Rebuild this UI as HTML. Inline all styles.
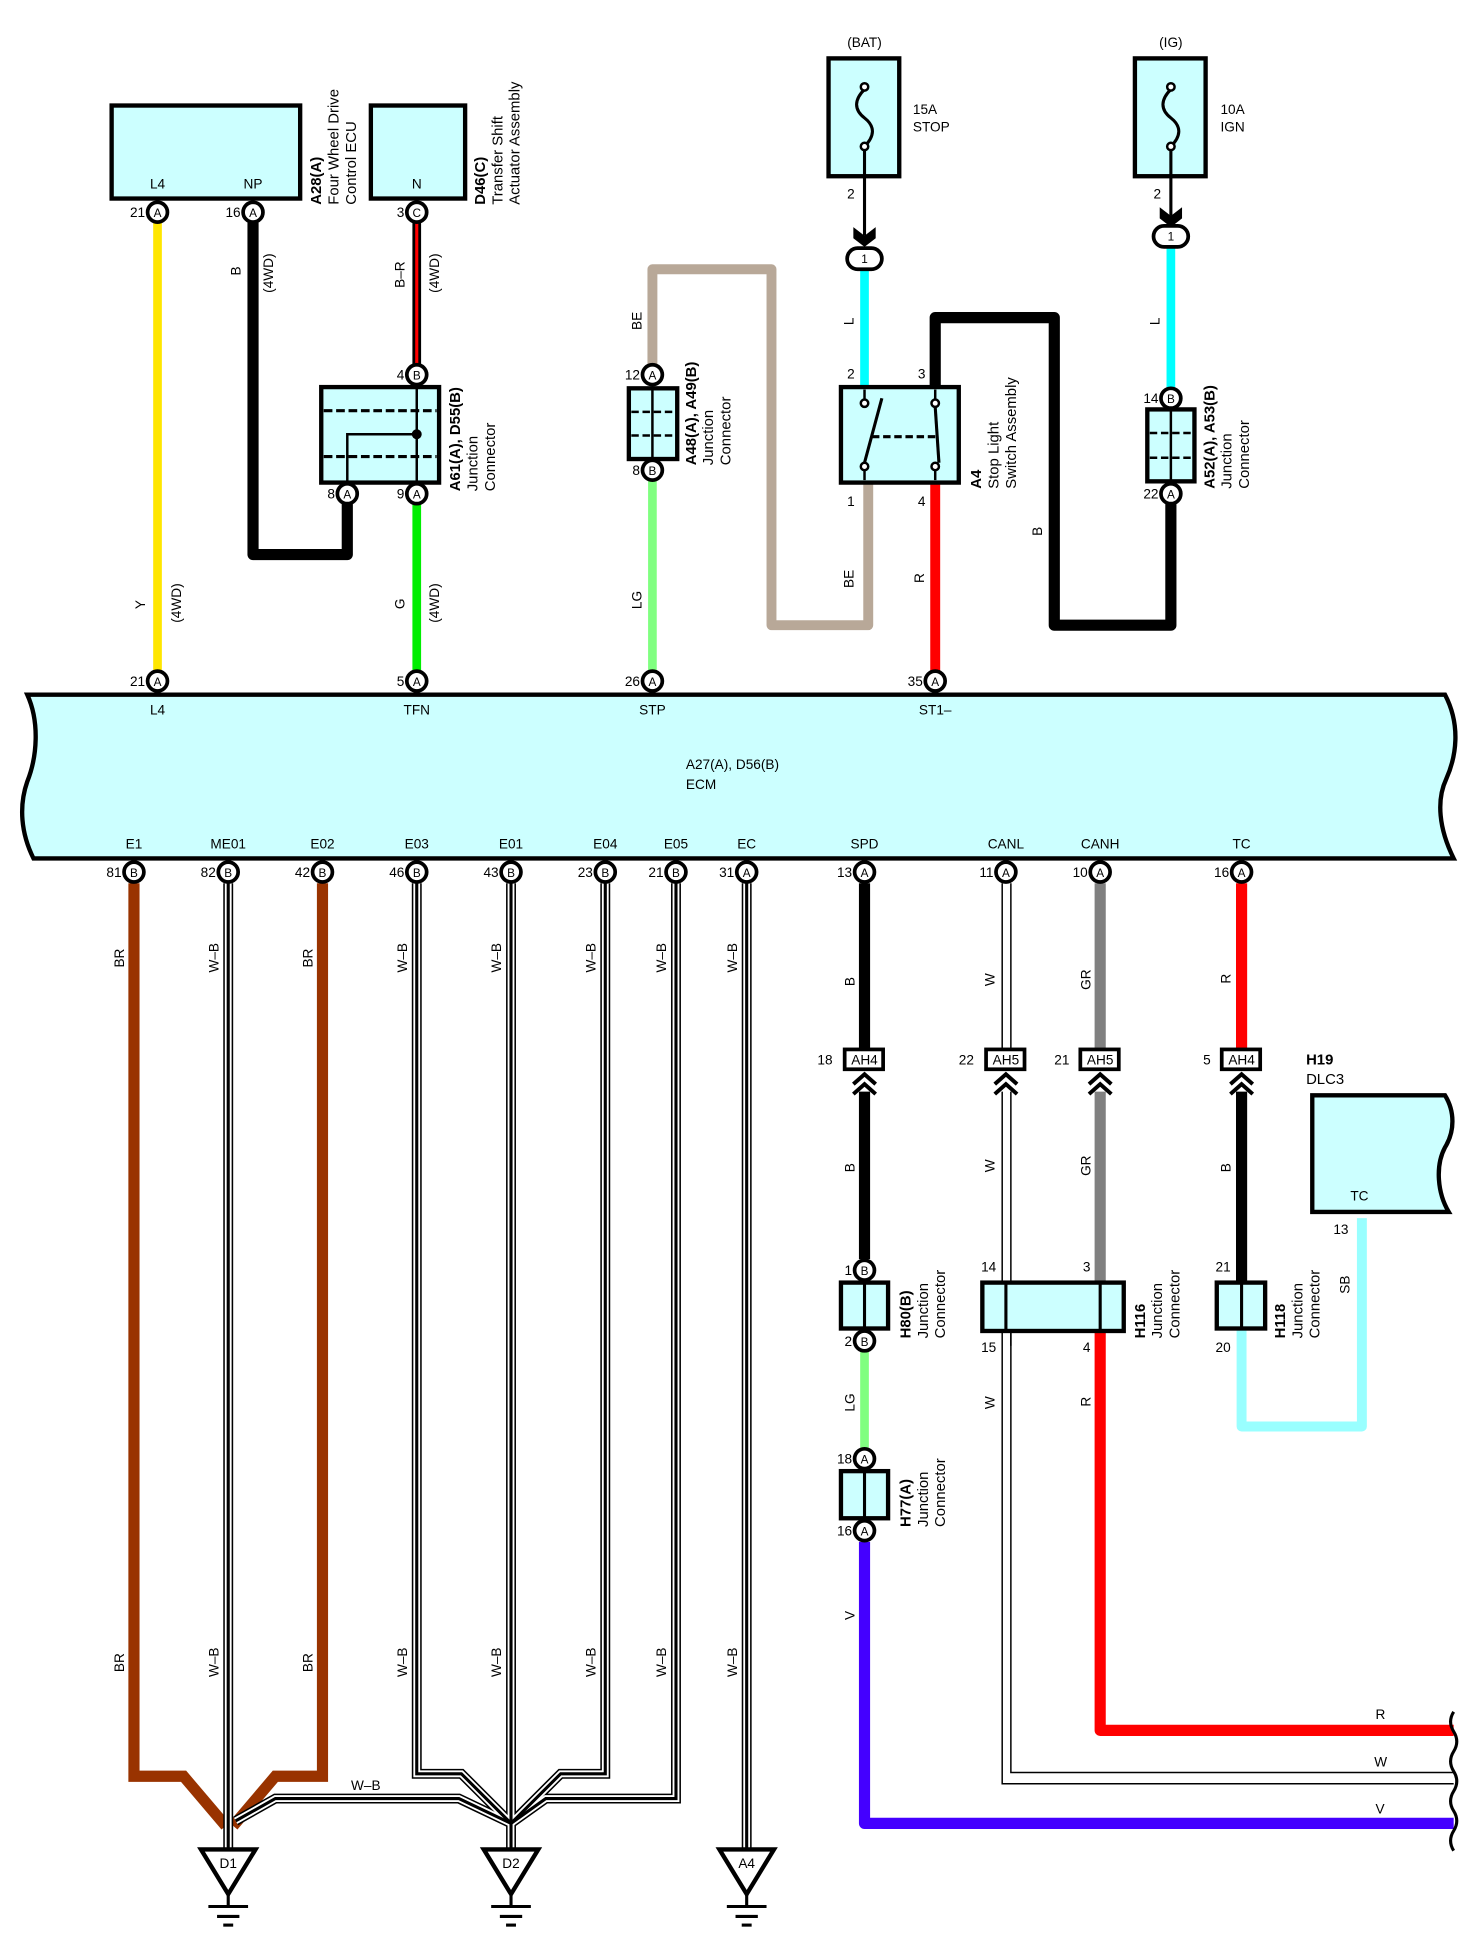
<!DOCTYPE html>
<html><head><meta charset="utf-8"><style>
html,body{margin:0;padding:0;background:#fff;}
svg{display:block;}
text{font-family:"Liberation Sans",Arial,sans-serif;fill:#000;}
.t{font-size:11px;}
.pl{font-size:9.5px;text-anchor:middle;}
.lb{font-size:12px;}
.b{font-weight:bold;}
</style></head><body>
<svg width="1476" height="1950" viewBox="0 0 1190 1572" xmlns="http://www.w3.org/2000/svg">
<defs>
<g id="wb"></g>
</defs>
<rect x="0" y="0" width="1190" height="1572" fill="#fff"/>

<!-- ================= TOP WIRES ================= -->
<g fill="none" stroke-linejoin="round" stroke-linecap="round">
<!-- yellow -->
<line x1="127" y1="180" x2="127" y2="541" stroke="#ffe600" stroke-width="7"/>
<!-- black NP -->
<polyline points="204,180 204,447 280,447 280,407" stroke="#000" stroke-width="9"/>
<!-- B-R -->
<line x1="336" y1="180" x2="336" y2="294" stroke="#000" stroke-width="7"/>
<line x1="336" y1="180" x2="336" y2="294" stroke="#ff0000" stroke-width="2.5"/>
<!-- green -->
<line x1="336" y1="407" x2="336" y2="541" stroke="#00ee00" stroke-width="7"/>
<!-- BE -->
<polyline points="526,293 526,217 622,217 622,504 700,504 700,389" stroke="#b8a898" stroke-width="8"/>
<!-- LG -->
<line x1="526" y1="388" x2="526" y2="541" stroke="#80ff80" stroke-width="7"/>
<!-- L cyan -->
<line x1="697" y1="217" x2="697" y2="312" stroke="#00ffff" stroke-width="7"/>
<line x1="944" y1="199" x2="944" y2="312" stroke="#00ffff" stroke-width="7"/>
<!-- black B -->
<polyline points="754,312 754,256 850,256 850,504 944,504 944,407" stroke="#000" stroke-width="9"/>
<!-- red -->
<line x1="754" y1="389" x2="754" y2="541" stroke="#ff0000" stroke-width="8"/>
</g>

<!-- A28 -->
<rect x="90" y="85" width="152" height="75" fill="#ccffff" stroke="#000" stroke-width="3.5"/>
<text class="t" x="127" y="152" text-anchor="middle">L4</text>
<text class="t" x="204" y="152" text-anchor="middle">NP</text>
<text class="lb" transform="translate(259,165) rotate(-90)"><tspan class="b">A28(A)</tspan></text>
<text class="lb" transform="translate(273,165) rotate(-90)">Four Wheel Drive</text>
<text class="lb" transform="translate(287,165) rotate(-90)">Control ECU</text>
<!-- D46 -->
<rect x="299" y="85" width="76" height="75" fill="#ccffff" stroke="#000" stroke-width="3.5"/>
<text class="t" x="336" y="152" text-anchor="middle">N</text>
<text class="lb b" transform="translate(391,165) rotate(-90)">D46(C)</text>
<text class="lb" transform="translate(405,165) rotate(-90)">Transfer Shift</text>
<text class="lb" transform="translate(419,165) rotate(-90)">Actuator Assembly</text>

<!-- wire labels top-left -->
<text class="t" transform="translate(194,222) rotate(-90)">B</text>
<text class="t" transform="translate(220,236) rotate(-90)">(4WD)</text>
<text class="t" transform="translate(326,232) rotate(-90)">B–R</text>
<text class="t" transform="translate(354,236) rotate(-90)">(4WD)</text>
<text class="t" transform="translate(117,491) rotate(-90)">Y</text>
<text class="t" transform="translate(146,502) rotate(-90)">(4WD)</text>
<text class="t" transform="translate(326,491) rotate(-90)">G</text>
<text class="t" transform="translate(354,502) rotate(-90)">(4WD)</text>

<!-- A61 junction -->
<rect x="259" y="312" width="95" height="77" fill="#ccffff" stroke="#000" stroke-width="3.5"/>
<line x1="261" y1="331" x2="352" y2="331" stroke="#000" stroke-width="2.5" stroke-dasharray="7,3"/>
<line x1="261" y1="368" x2="352" y2="368" stroke="#000" stroke-width="2.5" stroke-dasharray="7,3"/>
<line x1="336" y1="312" x2="336" y2="389" stroke="#000" stroke-width="2"/>
<polyline points="336,350 280,350 280,389" fill="none" stroke="#000" stroke-width="2"/>
<circle cx="336" cy="350" r="4" fill="#000"/>
<text class="lb b" transform="translate(371,396) rotate(-90)">A61(A), D55(B)</text>
<text class="lb" transform="translate(385,396) rotate(-90)">Junction</text>
<text class="lb" transform="translate(399,396) rotate(-90)">Connector</text>

<!-- A48 junction -->
<rect x="507" y="313" width="39" height="57" fill="#ccffff" stroke="#000" stroke-width="3.5"/>
<line x1="526" y1="313" x2="526" y2="370" stroke="#000" stroke-width="2"/>
<line x1="509" y1="332" x2="544" y2="332" stroke="#000" stroke-width="2" stroke-dasharray="6,3"/>
<line x1="509" y1="351" x2="544" y2="351" stroke="#000" stroke-width="2" stroke-dasharray="6,3"/>
<text class="lb b" transform="translate(561,375) rotate(-90)">A48(A), A49(B)</text>
<text class="lb" transform="translate(575,375) rotate(-90)">Junction</text>
<text class="lb" transform="translate(589,375) rotate(-90)">Connector</text>
<text class="t" transform="translate(517,266) rotate(-90)">BE</text>
<text class="t" transform="translate(517,491) rotate(-90)">LG</text>

<!-- Fuse 15A -->
<text class="t" x="697" y="38" text-anchor="middle">(BAT)</text>
<rect x="668" y="47" width="57" height="95" fill="#ccffff" stroke="#000" stroke-width="3.5"/>
<path d="M697,72 C689,80 688,88 697,95 C706,102 705,110 697,118" fill="none" stroke="#000" stroke-width="2.5"/>
<line x1="697" y1="118" x2="697" y2="190" stroke="#000" stroke-width="2.5"/>
<circle cx="697" cy="70" r="3" fill="#fff" stroke="#000" stroke-width="2"/>
<circle cx="697" cy="118" r="3" fill="#fff" stroke="#000" stroke-width="2"/>
<path d="M688,183 L697,190 L706,183 L706,192 L697,199 L688,192 Z" fill="#000"/>
<text class="t" x="736" y="92">15A</text>
<text class="t" x="736" y="106">STOP</text>
<text class="t" x="683" y="160">2</text>
<rect x="683" y="200" width="28" height="17" rx="8.5" fill="#fff" stroke="#000" stroke-width="3"/>
<text class="pl" x="697" y="212">1</text>
<text class="t" transform="translate(688,262) rotate(-90)">L</text>

<!-- Stop light switch -->
<rect x="678" y="312" width="95" height="77" fill="#ccffff" stroke="#000" stroke-width="3.5"/>
<line x1="697" y1="314" x2="697" y2="322" stroke="#000" stroke-width="2"/>
<line x1="697" y1="379" x2="697" y2="387" stroke="#000" stroke-width="2"/>
<line x1="754" y1="314" x2="754" y2="322" stroke="#000" stroke-width="2"/>
<line x1="754" y1="379" x2="754" y2="387" stroke="#000" stroke-width="2"/>
<line x1="697" y1="373" x2="711" y2="321" stroke="#000" stroke-width="2.5"/>
<line x1="754" y1="328" x2="757" y2="373" stroke="#000" stroke-width="2.5"/>
<line x1="703" y1="352" x2="755" y2="352" stroke="#000" stroke-width="2.5" stroke-dasharray="6,3"/>
<circle cx="697" cy="325" r="3" fill="#fff" stroke="#000" stroke-width="2"/>
<circle cx="697" cy="376" r="3" fill="#fff" stroke="#000" stroke-width="2"/>
<circle cx="754" cy="325" r="3" fill="#fff" stroke="#000" stroke-width="2"/>
<circle cx="754" cy="376" r="3" fill="#fff" stroke="#000" stroke-width="2"/>
<text class="t" x="683" y="305">2</text>
<text class="t" x="740" y="305">3</text>
<text class="t" x="683" y="408">1</text>
<text class="t" x="740" y="408">4</text>
<text class="lb b" transform="translate(791,394) rotate(-90)">A4</text>
<text class="lb" transform="translate(805,394) rotate(-90)">Stop Light</text>
<text class="lb" transform="translate(819,394) rotate(-90)">Switch Assembly</text>
<text class="t" transform="translate(688,474) rotate(-90)">BE</text>
<text class="t" transform="translate(745,470) rotate(-90)">R</text>
<text class="t" transform="translate(840,432) rotate(-90)">B</text>

<!-- Fuse 10A -->
<text class="t" x="944" y="38" text-anchor="middle">(IG)</text>
<rect x="915" y="47" width="57" height="95" fill="#ccffff" stroke="#000" stroke-width="3.5"/>
<path d="M944,72 C936,80 935,88 944,95 C953,102 952,110 944,118" fill="none" stroke="#000" stroke-width="2.5"/>
<line x1="944" y1="118" x2="944" y2="174" stroke="#000" stroke-width="2.5"/>
<circle cx="944" cy="70" r="3" fill="#fff" stroke="#000" stroke-width="2"/>
<circle cx="944" cy="118" r="3" fill="#fff" stroke="#000" stroke-width="2"/>
<path d="M935,167 L944,174 L953,167 L953,176 L944,183 L935,176 Z" fill="#000"/>
<text class="t" x="984" y="92">10A</text>
<text class="t" x="984" y="106">IGN</text>
<text class="t" x="930" y="160">2</text>
<rect x="930" y="182" width="28" height="17" rx="8.5" fill="#fff" stroke="#000" stroke-width="3"/>
<text class="pl" x="944" y="194">1</text>
<text class="t" transform="translate(935,262) rotate(-90)">L</text>

<!-- A52 -->
<rect x="925" y="330" width="38" height="58" fill="#ccffff" stroke="#000" stroke-width="3.5"/>
<line x1="944" y1="330" x2="944" y2="388" stroke="#000" stroke-width="2"/>
<line x1="927" y1="349" x2="961" y2="349" stroke="#000" stroke-width="2" stroke-dasharray="6,3"/>
<line x1="927" y1="369" x2="961" y2="369" stroke="#000" stroke-width="2" stroke-dasharray="6,3"/>
<text class="lb b" transform="translate(979,394) rotate(-90)">A52(A), A53(B)</text>
<text class="lb" transform="translate(993,394) rotate(-90)">Junction</text>
<text class="lb" transform="translate(1007,394) rotate(-90)">Connector</text>

<!-- ================= ECM ================= -->
<path d="M22,560 L1165,560 C1178,585 1174,610 1166,628 C1158,645 1160,668 1172,692 L27,692 C17,672 15,650 22,630 C30,610 32,582 22,560 Z" fill="#ccffff" stroke="#000" stroke-width="3.5"/>
<text class="t" x="127" y="576" text-anchor="middle">L4</text>
<text class="t" x="336" y="576" text-anchor="middle">TFN</text>
<text class="t" x="526" y="576" text-anchor="middle">STP</text>
<text class="t" x="754" y="576" text-anchor="middle">ST1–</text>
<text class="t" x="553" y="620">A27(A), D56(B)</text>
<text class="t" x="553" y="636">ECM</text>
<g class="t" text-anchor="middle">
<text x="108" y="684">E1</text><text x="184" y="684">ME01</text><text x="260" y="684">E02</text>
<text x="336" y="684">E03</text><text x="412" y="684">E01</text><text x="488" y="684">E04</text>
<text x="545" y="684">E05</text><text x="602" y="684">EC</text><text x="697" y="684">SPD</text>
<text x="811" y="684">CANL</text><text x="887" y="684">CANH</text><text x="1001" y="684">TC</text>
</g>

<!-- ================= BOTTOM WIRES ================= -->
<g fill="none" stroke-linejoin="miter">
<!-- brown -->
<polyline points="108,712 108,1432 148,1432 182,1472" stroke="#993300" stroke-width="9"/>
<polyline points="260,712 260,1432 222,1432 188,1472" stroke="#993300" stroke-width="9"/>
<!-- W-B wires: outer black, white, center black -->
<g stroke="#000" stroke-width="8">
<polyline points="184,712 184,1490"/>
<polyline points="336,712 336,1430 372,1430 412,1470"/>
<polyline points="412,712 412,1490"/>
<polyline points="488,712 488,1430 452,1430 412,1470"/>
<polyline points="545,712 545,1450 440,1450 412,1470"/>
<polyline points="190,1468 222,1450 370,1450 412,1470"/>
<polyline points="602,712 602,1490"/>
</g>
<g stroke="#fff" stroke-width="5.5">
<polyline points="184,712 184,1490"/>
<polyline points="336,712 336,1430 372,1430 412,1470"/>
<polyline points="412,712 412,1490"/>
<polyline points="488,712 488,1430 452,1430 412,1470"/>
<polyline points="545,712 545,1450 440,1450 412,1470"/>
<polyline points="190,1468 222,1450 370,1450 412,1470"/>
<polyline points="602,712 602,1490"/>
</g>
<g stroke="#000" stroke-width="2.5">
<polyline points="184,712 184,1490"/>
<polyline points="336,712 336,1430 372,1430 412,1470"/>
<polyline points="412,712 412,1490"/>
<polyline points="488,712 488,1430 452,1430 412,1470"/>
<polyline points="545,712 545,1450 440,1450 412,1470"/>
<polyline points="190,1468 222,1450 370,1450 412,1470"/>
<polyline points="602,712 602,1490"/>
</g>
<!-- right side -->
<line x1="697" y1="712" x2="697" y2="846" stroke="#000" stroke-width="9"/>
<line x1="697" y1="880" x2="697" y2="1015" stroke="#000" stroke-width="9"/>
<line x1="697" y1="1090" x2="697" y2="1167" stroke="#80ff80" stroke-width="7"/>
<polyline points="697,1243 697,1470 1172,1470" stroke="#4400ff" stroke-width="9" stroke-linejoin="round"/>
<!-- W (CANL) double thin -->
<polyline points="808,712 808,846" stroke="#000" stroke-width="1.2"/>
<polyline points="815,712 815,846" stroke="#000" stroke-width="1.2"/>
<polyline points="808,880 808,1438 1172,1438" stroke="#000" stroke-width="1.2"/>
<polyline points="815,880 815,1429 1172,1429" stroke="#000" stroke-width="1.2"/>
<!-- GR -->
<line x1="887" y1="712" x2="887" y2="846" stroke="#808080" stroke-width="9"/>
<line x1="887" y1="880" x2="887" y2="1034" stroke="#808080" stroke-width="9"/>
<polyline points="887,1073 887,1395 1172,1395" stroke="#ff0000" stroke-width="9" stroke-linejoin="round"/>
<!-- TC -->
<line x1="1001" y1="712" x2="1001" y2="846" stroke="#ff0000" stroke-width="9"/>
<line x1="1001" y1="880" x2="1001" y2="1034" stroke="#000" stroke-width="9"/>
<polyline points="1001,1071 1001,1150 1098,1150 1098,982" stroke="#99ffff" stroke-width="8" stroke-linejoin="round"/>
</g>

<!-- bottom wire labels -->
<g class="t">
<text transform="translate(100,780) rotate(-90)">BR</text>
<text transform="translate(176,784) rotate(-90)">W–B</text>
<text transform="translate(252,780) rotate(-90)">BR</text>
<text transform="translate(328,784) rotate(-90)">W–B</text>
<text transform="translate(404,784) rotate(-90)">W–B</text>
<text transform="translate(480,784) rotate(-90)">W–B</text>
<text transform="translate(537,784) rotate(-90)">W–B</text>
<text transform="translate(594,784) rotate(-90)">W–B</text>
<text transform="translate(100,1348) rotate(-90)">BR</text>
<text transform="translate(176,1352) rotate(-90)">W–B</text>
<text transform="translate(252,1348) rotate(-90)">BR</text>
<text transform="translate(328,1352) rotate(-90)">W–B</text>
<text transform="translate(404,1352) rotate(-90)">W–B</text>
<text transform="translate(480,1352) rotate(-90)">W–B</text>
<text transform="translate(537,1352) rotate(-90)">W–B</text>
<text transform="translate(594,1352) rotate(-90)">W–B</text>
<text x="283" y="1443">W–B</text>
<text transform="translate(689,795) rotate(-90)">B</text>
<text transform="translate(689,945) rotate(-90)">B</text>
<text transform="translate(689,1138) rotate(-90)">LG</text>
<text transform="translate(689,1306) rotate(-90)">V</text>
<text transform="translate(802,795) rotate(-90)">W</text>
<text transform="translate(802,945) rotate(-90)">W</text>
<text transform="translate(802,1136) rotate(-90)">W</text>
<text transform="translate(879,798) rotate(-90)">GR</text>
<text transform="translate(879,948) rotate(-90)">GR</text>
<text transform="translate(879,1134) rotate(-90)">R</text>
<text transform="translate(992,793) rotate(-90)">R</text>
<text transform="translate(992,945) rotate(-90)">B</text>
<text transform="translate(1088,1043) rotate(-90)">SB</text>
<text x="1109" y="1386">R</text>
<text x="1108" y="1424">W</text>
<text x="1109" y="1462">V</text>
</g>

<!-- AH connectors -->
<g>
<rect x="681" y="846" width="31" height="16" fill="#fff" stroke="#000" stroke-width="3"/>
<text class="t" x="697" y="858" text-anchor="middle">AH4</text><text class="t" x="659" y="858">18</text>
<rect x="795" y="846" width="31" height="16" fill="#fff" stroke="#000" stroke-width="3"/>
<text class="t" x="811" y="858" text-anchor="middle">AH5</text><text class="t" x="773" y="858">22</text>
<rect x="871" y="846" width="31" height="16" fill="#fff" stroke="#000" stroke-width="3"/>
<text class="t" x="887" y="858" text-anchor="middle">AH5</text><text class="t" x="850" y="858">21</text>
<rect x="985" y="846" width="31" height="16" fill="#fff" stroke="#000" stroke-width="3"/>
<text class="t" x="1001" y="858" text-anchor="middle">AH4</text><text class="t" x="970" y="858">5</text>
</g>
<g fill="none" stroke="#000" stroke-width="3.2">
<polyline points="688,874 697,866 706,874"/><polyline points="688,882 697,874 706,882"/>
<polyline points="802,874 811,866 820,874"/><polyline points="802,882 811,874 820,882"/>
<polyline points="878,874 887,866 896,874"/><polyline points="878,882 887,874 896,882"/>
<polyline points="992,874 1001,866 1010,874"/><polyline points="992,882 1001,874 1010,882"/>
</g>

<!-- H80 -->
<rect x="678" y="1034" width="38" height="37" fill="#ccffff" stroke="#000" stroke-width="3.5"/>
<line x1="697" y1="1034" x2="697" y2="1071" stroke="#000" stroke-width="2.5"/>
<text class="lb b" transform="translate(734,1079) rotate(-90)">H80(B)</text>
<text class="lb" transform="translate(748,1079) rotate(-90)">Junction</text>
<text class="lb" transform="translate(762,1079) rotate(-90)">Connector</text>
<!-- H77 -->
<rect x="678" y="1186" width="38" height="38" fill="#ccffff" stroke="#000" stroke-width="3.5"/>
<line x1="697" y1="1186" x2="697" y2="1224" stroke="#000" stroke-width="2.5"/>
<text class="lb b" transform="translate(734,1231) rotate(-90)">H77(A)</text>
<text class="lb" transform="translate(748,1231) rotate(-90)">Junction</text>
<text class="lb" transform="translate(762,1231) rotate(-90)">Connector</text>
<!-- H116 -->
<rect x="792" y="1034" width="114" height="39" fill="#ccffff" stroke="#000" stroke-width="3.5"/>
<line x1="811" y1="1034" x2="811" y2="1073" stroke="#000" stroke-width="2.5"/>
<line x1="887" y1="1034" x2="887" y2="1073" stroke="#000" stroke-width="2.5"/>
<line x1="815" y1="1073" x2="815" y2="1085" stroke="#000" stroke-width="1.2"/>
<text class="t" x="791" y="1025">14</text><text class="t" x="873" y="1025">3</text>
<text class="t" x="791" y="1090">15</text><text class="t" x="873" y="1090">4</text>
<text class="lb b" transform="translate(923,1079) rotate(-90)">H116</text>
<text class="lb" transform="translate(937,1079) rotate(-90)">Junction</text>
<text class="lb" transform="translate(951,1079) rotate(-90)">Connector</text>
<!-- H118 -->
<rect x="981" y="1034" width="39" height="37" fill="#ccffff" stroke="#000" stroke-width="3.5"/>
<line x1="1001" y1="1034" x2="1001" y2="1071" stroke="#000" stroke-width="2.5"/>
<text class="t" x="980" y="1025">21</text><text class="t" x="980" y="1090">20</text>
<text class="lb b" transform="translate(1036,1079) rotate(-90)">H118</text>
<text class="lb" transform="translate(1050,1079) rotate(-90)">Junction</text>
<text class="lb" transform="translate(1064,1079) rotate(-90)">Connector</text>
<!-- H19 DLC3 -->
<text class="lb b" x="1053" y="858">H19</text>
<text class="lb" x="1053" y="874">DLC3</text>
<path d="M1058,883 L1165,883 C1173,896 1173,912 1165,925 C1157,940 1159,962 1168,977 L1058,977 Z" fill="#ccffff" stroke="#000" stroke-width="3.5"/>
<text class="t" x="1096" y="968" text-anchor="middle">TC</text>
<text class="t" x="1075" y="995">13</text>

<!-- wavy break -->
<path d="M1172,1380 q-5,8 0,16 q5,8 0,16 q-5,8 0,16 q5,8 0,16 q-5,8 0,16 q5,8 0,16 q-5,8 0,16" fill="none" stroke="#000" stroke-width="2.5"/>

<!-- grounds -->
<g fill="#fff" stroke="#000" stroke-width="3.5" stroke-linejoin="miter">
<polygon points="162,1491 206,1491 184,1527"/>
<polygon points="390,1491 434,1491 412,1527"/>
<polygon points="580,1491 624,1491 602,1527"/>
</g>
<g stroke="#000" stroke-width="2.5">
<line x1="184" y1="1527" x2="184" y2="1537"/><line x1="168" y1="1537" x2="200" y2="1537"/><line x1="175" y1="1545" x2="193" y2="1545"/><line x1="180" y1="1552" x2="188" y2="1552"/>
<line x1="412" y1="1527" x2="412" y2="1537"/><line x1="396" y1="1537" x2="428" y2="1537"/><line x1="403" y1="1545" x2="421" y2="1545"/><line x1="408" y1="1552" x2="416" y2="1552"/>
<line x1="602" y1="1527" x2="602" y2="1537"/><line x1="586" y1="1537" x2="618" y2="1537"/><line x1="593" y1="1545" x2="611" y2="1545"/><line x1="598" y1="1552" x2="606" y2="1552"/>
</g>
<g class="t" text-anchor="middle">
<text x="184" y="1506">D1</text><text x="412" y="1506">D2</text><text x="602" y="1506">A4</text>
</g>

<!-- ================= PINS ================= -->
<g fill="#fff" stroke="#000" stroke-width="3">
<circle cx="127" cy="171" r="8"/><circle cx="204" cy="171" r="8"/><circle cx="336" cy="171" r="8"/>
<circle cx="336" cy="302" r="8"/><circle cx="280" cy="398" r="8"/><circle cx="336" cy="398" r="8"/>
<circle cx="526" cy="302" r="8"/><circle cx="526" cy="379" r="8"/>
<circle cx="944" cy="321" r="8"/><circle cx="944" cy="398" r="8"/>
<circle cx="127" cy="549" r="8"/><circle cx="336" cy="549" r="8"/><circle cx="526" cy="549" r="8"/><circle cx="754" cy="549" r="8"/>
<circle cx="108" cy="703" r="8"/><circle cx="184" cy="703" r="8"/><circle cx="260" cy="703" r="8"/><circle cx="336" cy="703" r="8"/>
<circle cx="412" cy="703" r="8"/><circle cx="488" cy="703" r="8"/><circle cx="545" cy="703" r="8"/><circle cx="602" cy="703" r="8"/>
<circle cx="697" cy="703" r="8"/><circle cx="811" cy="703" r="8"/><circle cx="887" cy="703" r="8"/><circle cx="1001" cy="703" r="8"/>
<circle cx="697" cy="1024" r="8"/><circle cx="697" cy="1081" r="8"/><circle cx="697" cy="1176" r="8"/><circle cx="697" cy="1234" r="8"/>
</g>
<g class="pl">
<text x="127" y="175">A</text><text x="204" y="175">A</text><text x="336" y="175">C</text>
<text x="336" y="306">B</text><text x="280" y="402">A</text><text x="336" y="402">A</text>
<text x="526" y="306">A</text><text x="526" y="383">B</text>
<text x="944" y="325">B</text><text x="944" y="402">A</text>
<text x="127" y="553">A</text><text x="336" y="553">A</text><text x="526" y="553">A</text><text x="754" y="553">A</text>
<text x="108" y="707">B</text><text x="184" y="707">B</text><text x="260" y="707">B</text><text x="336" y="707">B</text>
<text x="412" y="707">B</text><text x="488" y="707">B</text><text x="545" y="707">B</text><text x="602" y="707">A</text>
<text x="697" y="707">A</text><text x="811" y="707">A</text><text x="887" y="707">A</text><text x="1001" y="707">A</text>
<text x="697" y="1028">B</text><text x="697" y="1085">B</text><text x="697" y="1180">A</text><text x="697" y="1238">A</text>
</g>
<g class="t" text-anchor="end">
<text x="117" y="175">21</text><text x="194" y="175">16</text><text x="326" y="175">3</text>
<text x="326" y="306">4</text><text x="270" y="402">8</text><text x="326" y="402">9</text>
<text x="516" y="306">12</text><text x="516" y="383">8</text>
<text x="934" y="325">14</text><text x="934" y="402">22</text>
<text x="117" y="553">21</text><text x="326" y="553">5</text><text x="516" y="553">26</text><text x="744" y="553">35</text>
<text x="98" y="707">81</text><text x="174" y="707">82</text><text x="250" y="707">42</text><text x="326" y="707">46</text>
<text x="402" y="707">43</text><text x="478" y="707">23</text><text x="535" y="707">21</text><text x="592" y="707">31</text>
<text x="687" y="707">13</text><text x="801" y="707">11</text><text x="877" y="707">10</text><text x="991" y="707">16</text>
<text x="687" y="1028">1</text><text x="687" y="1085">2</text><text x="687" y="1180">18</text><text x="687" y="1238">16</text>
</g>
</svg>
</body></html>
